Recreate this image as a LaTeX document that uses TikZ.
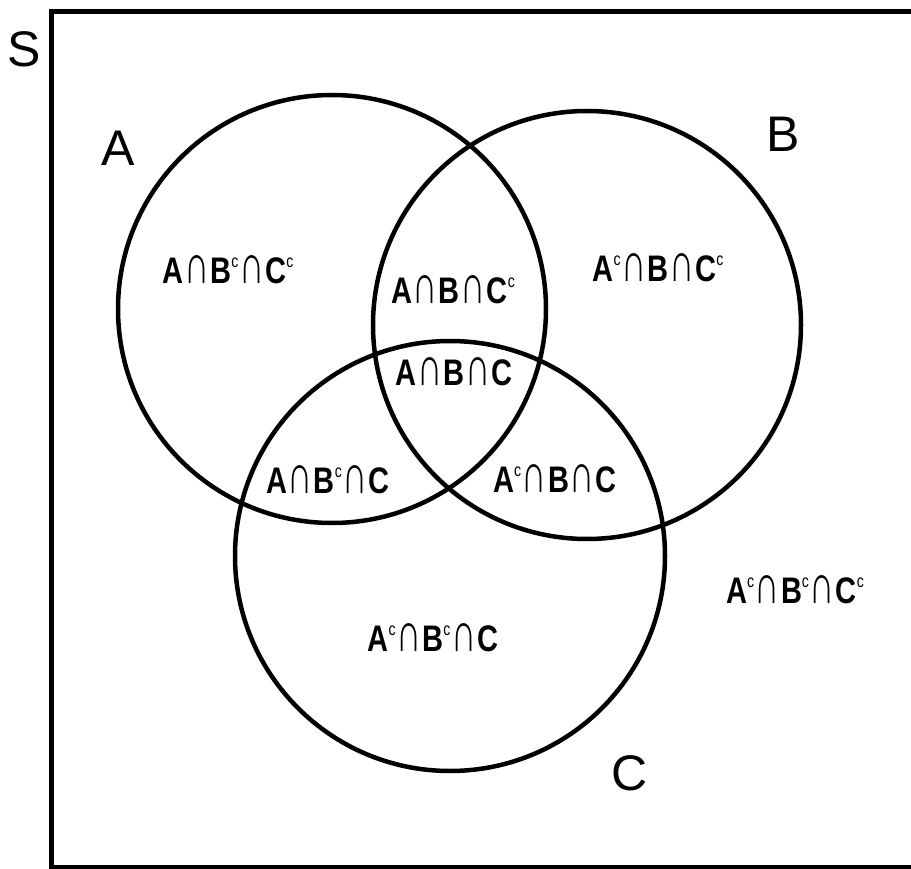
\documentclass[tikz,border=0pt]{standalone}
\usepackage{fontspec}
\setmainfont{Liberation Sans}
\newcommand\supc{\raisebox{14pt}{\fontsize{16}{16}\selectfont\mdseries c}}
\newcommand\capsym{\hspace{1pt}\raisebox{-0.5pt}{\scalebox{1.2}[1.5]{∩}}\hspace{1pt}}
\newcommand\rg[1]{\scalebox{0.88}[1.12]{#1}}
\begin{document}
\begin{tikzpicture}[x=1pt,y=-1pt,
  ln/.style={line width=4.5pt},
  big/.style={inner sep=0pt,font=\fontsize{50}{50}\selectfont},
  reg/.style={inner sep=0pt,font=\fontsize{33}{36}\selectfont\bfseries}]
\useasboundingbox (0,0) rectangle (911,869);
\draw[ln] (51.5,11.5) rectangle (925,867.5);
\node[big] (S) at (24,49) {S};
\node[big] (lA) at (118,148) {A};
\node[big] (lB) at (783,134) {B};
\node[big] (lC) at (630,773) {C};
\draw[ln] (332,309) circle (214);
\draw[ln] (587,325) circle (214);
\draw[ln] (450,556) circle (215);
\node[reg] (r1) at (228,270) {\rg{A\capsym B\supc\capsym C\supc}};
\node[reg] (r2) at (453,290) {\rg{A\capsym B\capsym C\supc}};
\node[reg] (r3) at (454,372) {\rg{A\capsym B\capsym C}};
\node[reg] (r4) at (328,480) {\rg{A\capsym B\supc\capsym C}};
\node[reg] (r5) at (555,479) {\rg{A\supc\capsym B\capsym C}};
\node[reg] (r6) at (658,268) {\rg{A\supc\capsym B\capsym C\supc}};
\node[reg] (r7) at (433,638) {\rg{A\supc\capsym B\supc\capsym C}};
\node[reg] (r8) at (795,590) {\rg{A\supc\capsym B\supc\capsym C\supc}};
\end{tikzpicture}
\end{document}
